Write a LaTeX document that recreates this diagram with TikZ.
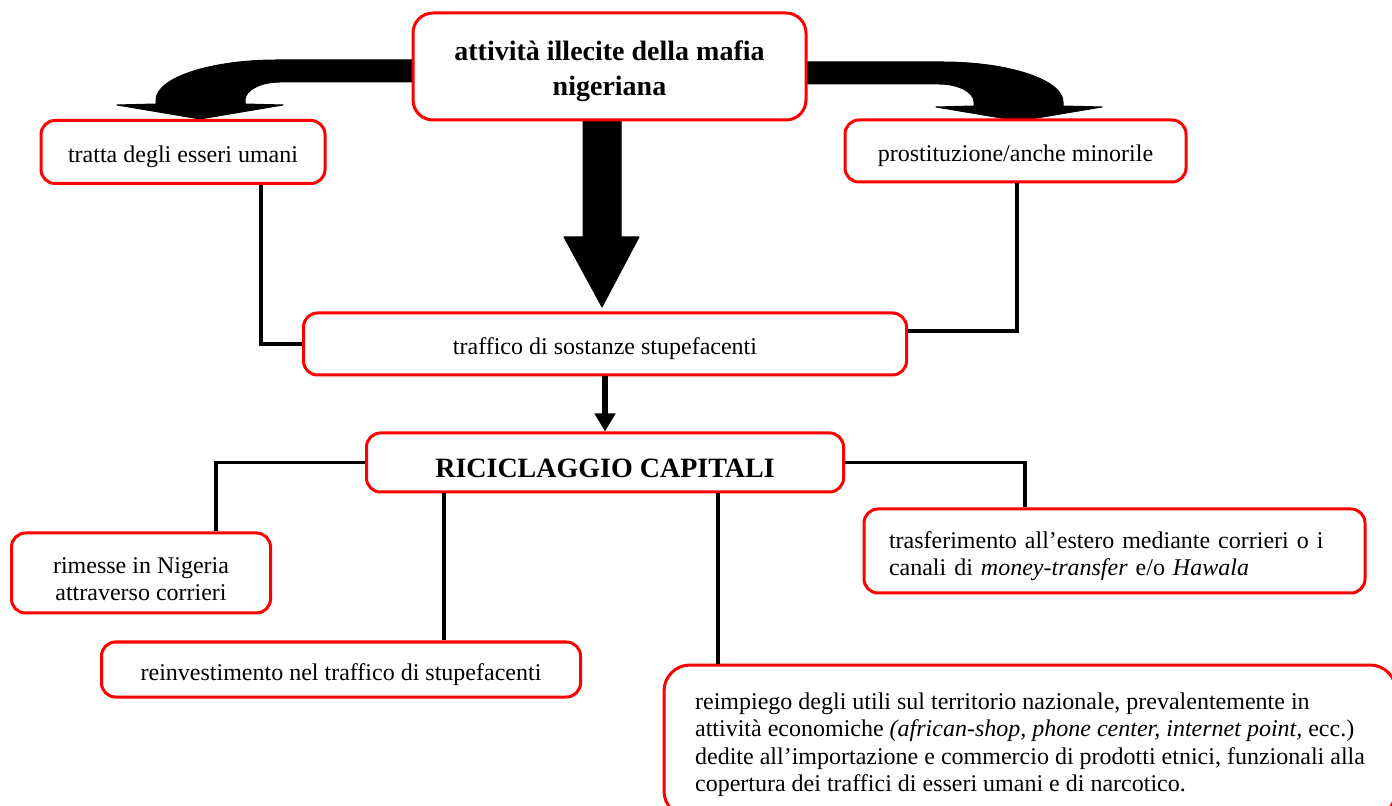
\documentclass[tikz,border=0pt]{standalone}
\usepackage{fontspec}
\setmainfont{Liberation Serif}
\usetikzlibrary{arrows.meta,calc}
\begin{document}
\begin{tikzpicture}[x=0.5pt,y=-0.5pt,
  box/.style={draw=red,line width=1.5pt,rounded corners=7pt,fill=white,
    inner sep=0pt,font=\fontsize{12}{13.8}\selectfont,align=center,
    execute at begin node={\rule{0pt}{1.1em}}},
  titlebox/.style={box,font=\fontsize{14}{17.5}\selectfont\bfseries},
  conn/.style={line width=1.6pt},
  block/.style={fill=black,draw=black,line width=0.5pt,line join=round},
  thinarrow/.style={line width=3pt,-{Triangle[width=10pt,length=9pt]}},
  curvedarrow/.pic={
    \fill[block] (413,60) -- (277,60) .. controls (210,60) and (156,78) .. (156,100)
      -- (156,104) -- (117,105) -- (200,119) -- (283,105) -- (245,104) -- (245,100)
      .. controls (245,90) and (261,82) .. (280,82) -- (413,82) -- cycle;
  }]
\clip (0,0) rectangle (1392,806);
\fill[white] (0,0) rectangle (1392,806);

% curved block arrows leaving the title box
\pic at (0,0) {curvedarrow};
\pic[xscale=-1] at (1219,2) {curvedarrow};

% broad downward block arrow
\fill[block] (583,120) -- (621,120) -- (621,237) -- (639,237) -- (602,307)
  -- (564,237) -- (583,237) -- cycle;

% boxes
\node[titlebox,minimum width=196.5pt,minimum height=53.5pt,rounded corners=10pt] (top)
  at (609.5,66.5) {\rule{0pt}{15pt}attività illecite della mafia\\nigeriana};
\node[box,minimum width=142pt,minimum height=31.5pt] (tratta) at (183,152)
  {tratta degli esseri umani};
\node[box,minimum width=170.5pt,minimum height=31pt] (prost) at (1015.5,151)
  {prostituzione/anche minorile};
\node[box,minimum width=301.5pt,minimum height=31pt] (traffico) at (605,344)
  {traffico di sostanze stupefacenti};
\node[titlebox,minimum width=238.5pt,minimum height=29.5pt] (ricic) at (605,462.5)
  {RICICLAGGIO CAPITALI};
\node[box,minimum width=129.5pt,minimum height=40pt] (rimesse) at (141,573)
  {\rule{0pt}{14pt}rimesse in Nigeria\\attraverso corrieri};
\node[box,minimum width=239.5pt,minimum height=27.5pt] (reinv) at (341,669.5)
  {reinvestimento nel traffico di stupefacenti};
\node[box,minimum width=250.5pt,minimum height=42pt,text width=225.5pt,align=left] (trasf)
  at (1114.5,551)
  {\rule{0pt}{13.5pt}trasferimento all’estero mediante corrieri o i\\canali di \textit{money-transfer} e/o \textit{Hawala}};
\node[box,rounded corners=13pt,minimum width=366pt,minimum height=76pt,align=left] (reimp)
  at (1030,741)
  {\rule{0pt}{12pt}reimpiego degli utili sul territorio nazionale, prevalentemente in\\
   attività economiche \textit{(african-shop, phone center, internet point,} ecc.)\\
   dedite all’importazione e commercio di prodotti etnici, funzionali alla\\
   copertura dei traffici di esseri umani e di narcotico.};

% connectors
\draw[conn] ([xshift=39pt]tratta.south) |- (traffico.west);
\draw[conn] ([xshift=0.75pt]prost.south) |- ([yshift=6.5pt]traffico.east);
\draw[thinarrow] (traffico.south) -- (ricic.north);
\draw[conn] (ricic.west) -| ([xshift=37.5pt]rimesse.north);
\coordinate (r1) at ([xshift=-80.5pt]ricic.south);
\draw[conn] (r1) -- (r1 |- reinv.north);
\coordinate (r2) at ([xshift=56.5pt]ricic.south);
\draw[conn] (r2) -- (r2 |- reimp.north);
\draw[conn] (ricic.east) -| ([xshift=-44.75pt]trasf.north);
\end{tikzpicture}
\end{document}
